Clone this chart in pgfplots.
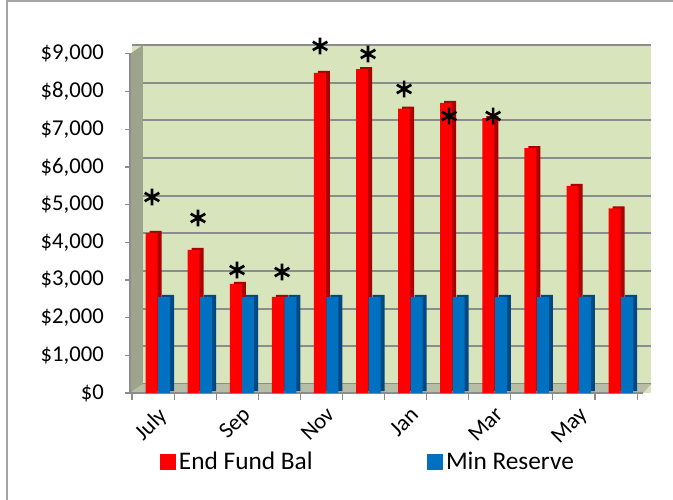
\documentclass[border=0pt]{standalone}
\usepackage{fontspec}
\setmainfont{Carlito}
\usepackage{pgfplots}
\pgfplotsset{compat=1.18}
\definecolor{wallgreen}{RGB}{216,228,188}
\definecolor{sidewall}{RGB}{158,163,139}
\definecolor{floorc}{RGB}{184,190,165}
\definecolor{gridc}{RGB}{140,140,140}
\definecolor{redf}{RGB}{255,0,0}
\definecolor{reds}{RGB}{170,0,0}
\definecolor{bluef}{RGB}{0,112,192}
\definecolor{blues}{RGB}{0,72,130}
\definecolor{framec}{RGB}{165,165,165}
\begin{document}
\begin{tikzpicture}
\useasboundingbox (0,0) rectangle (504.75pt,-374.25pt);
\draw[framec, line width=1.5pt] (4.9pt,-1.1pt) rectangle (530pt,-400pt);
\begin{axis}[
  at={(99pt,-294.75pt)}, anchor=south west,
  scale only axis, width=389.25pt, height=261pt,
  xmin=-0.5, xmax=11.83, ymin=0, ymax=9238,
  clip=false,
  axis background/.style={fill=wallgreen},
  axis line style={draw=none},
  ymajorgrids,
  major grid style={gridc, line width=1.6pt, yshift=6.75pt},
  ytick={0,1000,...,9000},
  xtick={0,2,4,6,8,10},
  xticklabels={July,Sep,Nov,Jan,Mar,May},
  minor xtick={-0.5,0.5,...,11.5},
  xtick pos=bottom, ytick pos=left,
  tick align=outside,
  major tick length=5pt, minor tick length=5pt,
  major x tick style={draw=none},
  minor x tick style={gridc, line width=0.8pt},
  y tick style={gridc, line width=0.8pt},
  tick label style={font=\fontsize{17pt}{19pt}\selectfont},
  yticklabel={\$\pgfmathprintnumber{\tick}},
  yticklabel style={/pgf/number format/fixed, /pgf/number format/1000 sep={,}, /pgf/number format/assume math mode=true, anchor=east, inner sep=0pt, xshift=-16pt},
  xticklabel style={rotate=45, anchor=north east, inner sep=1pt, yshift=-4pt},
  legend style={draw=none, fill=none, inner sep=0pt, at={(axis description cs:0.054,-0.162)}, anchor=north west, legend columns=2, font=\fontsize{19pt}{21pt}\selectfont, /tikz/every even column/.append style={column sep=84pt}},
]
% left wall and floor
\fill[sidewall] (axis cs:-0.548,0) -- (axis cs:-0.548,9000) -- (axis cs:-0.239,9238) -- (axis cs:-0.239,239) -- cycle;
\fill[floorc] (axis cs:-0.548,0) -- (axis cs:-0.239,239) -- (axis cs:11.83,239) -- (axis cs:11.643,0) -- cycle;
\draw[gridc, line width=0.8pt] (axis cs:-0.548,0) -- (axis cs:11.643,0);
\draw[gridc, line width=0.8pt] (axis cs:-0.548,0) -- (axis cs:-0.548,9000);

% End Fund Bal: side face then front face
\addplot[ybar, bar width=9pt, bar shift=1.9pt, fill=reds, draw=none, yshift=1.5pt, forget plot]
  coordinates {(0,4250) (1,3800) (2,2900) (3,2550) (4,8500) (5,8600) (6,7550) (7,7700) (8,7300) (9,6500) (10,5500) (11,4900)};
\addplot[ybar, bar width=9pt, bar shift=-1.1pt, fill=redf, draw=none,
  legend image code/.code={\fill[redf] (0pt,-6pt) rectangle (12pt,6pt);}]
  coordinates {(0,4250) (1,3800) (2,2900) (3,2550) (4,8500) (5,8600) (6,7550) (7,7700) (8,7300) (9,6500) (10,5500) (11,4900)};
\addlegendentry{End Fund Bal}
% Min Reserve
\addplot[ybar, bar width=9pt, bar shift=11.25pt, fill=blues, draw=none, yshift=1.5pt, forget plot]
  coordinates {(0,2550) (1,2550) (2,2550) (3,2550) (4,2550) (5,2550) (6,2550) (7,2550) (8,2550) (9,2550) (10,2550) (11,2550)};
\addplot[ybar, bar width=9pt, bar shift=8.25pt, fill=bluef, draw=none,
  legend image code/.code={\fill[bluef] (0pt,-6pt) rectangle (12pt,6pt);}]
  coordinates {(0,2550) (1,2550) (2,2550) (3,2550) (4,2550) (5,2550) (6,2550) (7,2550) (8,2550) (9,2550) (10,2550) (11,2550)};
\addlegendentry{Min Reserve}
% asterisks
\addplot[only marks, mark=asterisk, mark size=6.3pt, line width=2pt, black, forget plot]
  coordinates {(-0.025,5203) (1.068,4646) (1.995,3265) (3.065,3212) (3.968,9213) (5.108,9000) (5.964,8071) (7.033,7354) (8.079,7354)};
\end{axis}
\end{tikzpicture}
\end{document}
